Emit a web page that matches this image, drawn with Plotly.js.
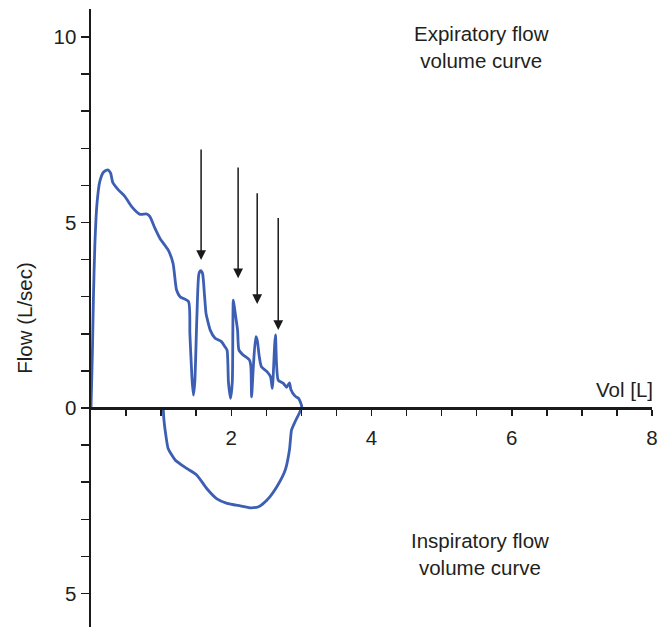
<!DOCTYPE html>
<html>
<head>
<meta charset="utf-8">
<script src="https://cdn.plot.ly/plotly-3.0.1.min.js"></script>
<style>html,body{margin:0;padding:0;background:#fff;}#chart{width:670px;height:627px;}</style>
</head>
<body>
<div id="chart"></div>
<script>
// Expiratory limb (volume L, flow L/s)
var expVol  = [0, 0.02, 0.035, 0.055, 0.085, 0.125, 0.18, 0.24, 0.28, 0.31, 0.39, 0.485, 0.58, 0.70, 0.795, 0.84, 0.913, 0.984, 1.10, 1.17, 1.22, 1.27, 1.39, 1.41, 1.44, 1.46, 1.48, 1.51, 1.54, 1.565, 1.59, 1.62, 1.64, 1.65, 1.70, 1.77, 1.86, 1.91, 1.94, 1.96, 1.99, 2.015, 2.03, 2.05, 2.09, 2.11, 2.17, 2.26, 2.28, 2.29, 2.315, 2.35, 2.37, 2.40, 2.43, 2.51, 2.56, 2.585, 2.595, 2.63, 2.67, 2.74, 2.79, 2.83, 2.85, 2.91, 2.96, 3.005];
var expFlow = [0, 1.5, 3.0, 4.4, 5.5, 6.1, 6.36, 6.42, 6.33, 6.08, 5.88, 5.70, 5.43, 5.22, 5.23, 5.16, 4.84, 4.57, 4.26, 3.90, 3.18, 3.00, 2.87, 2.0, 0.8, 0.35, 0.7, 2.46, 3.63, 3.70, 3.63, 3.00, 2.55, 2.46, 2.10, 1.88, 1.79, 1.65, 1.56, 0.7, 0.26, 0.7, 2.91, 2.64, 2.10, 1.56, 1.43, 1.29, 1.11, 0.30, 1.11, 1.92, 1.83, 1.38, 1.11, 0.98, 0.84, 0.53, 0.75, 1.97, 0.75, 0.67, 0.56, 0.68, 0.50, 0.32, 0.26, 0.04];
// Inspiratory limb (volume L, flow L/s, negative = inspiration)
var inspVol  = [3.005, 2.98, 2.91, 2.86, 2.83, 2.77, 2.65, 2.51, 2.39, 2.27, 2.13, 1.94, 1.79, 1.65, 1.51, 1.365, 1.20, 1.10, 1.07, 1.04, 1.03];
var inspFlow = [0.04, -0.10, -0.37, -0.59, -1.13, -1.67, -2.12, -2.48, -2.66, -2.69, -2.64, -2.57, -2.44, -2.17, -1.81, -1.63, -1.40, -1.09, -0.77, -0.32, 0];
// Arrows marking the interruptions
var arrowX    = [1.57, 2.098, 2.37, 2.67];
var arrowTail = [7.01, 6.52, 5.83, 5.16];
var arrowTip  = [3.99, 3.50, 2.80, 2.10];
// Axis ticks
var xTickVals = [0.5, 1, 1.5, 2, 2.5, 3, 3.5, 4, 4.5, 5, 5.5, 6, 6.5, 7, 7.5, 8];
var xTickText = ['', '', '', '2', '', '', '', '4', '', '', '', '6', '', '', '', '8'];
var yTickVals = [-5, -4, -3, -2, -1, 0, 1, 2, 3, 4, 5, 6, 7, 8, 9, 10];
var yTickText = ['5', '', '', '', '', '0', '', '', '', '', '5', '', '', '', '', '10'];

var loopX = expVol.concat(inspVol.slice(1));
var loopY = expFlow.concat(inspFlow.slice(1));

var FONT = 'Liberation Sans, Arial, sans-serif';
var TXT = '#231f20';
var FS = 20.5;
var yMin = -5.903, yMax = 10.755;

var annotations = [
  {x: 5.563, y: 9.744, xref: 'x', yref: 'y', text: 'Expiratory flow<br>volume curve', showarrow: false, font: {family: FONT, size: FS, color: TXT}, align: 'center'},
  {x: 5.55, y: -3.935, xref: 'x', yref: 'y', text: 'Inspiratory flow<br>volume curve', showarrow: false, font: {family: FONT, size: FS, color: TXT}, align: 'center'},
  {x: 1.006, y: (0.5 - yMin) / (yMax - yMin), xref: 'paper', yref: 'paper', xanchor: 'right', yanchor: 'middle', text: 'Vol [L]', showarrow: false, font: {family: FONT, size: FS, color: TXT}}
];
for (var i = 0; i < arrowX.length; i++) {
  annotations.push({x: arrowX[i], y: arrowTip[i], ax: arrowX[i], ay: arrowTail[i], xref: 'x', yref: 'y', axref: 'x', ayref: 'y', text: '', showarrow: true, arrowhead: 2, arrowsize: 1.3, arrowwidth: 1.5, arrowcolor: '#1a1a1a', standoff: 0});
}

var data = [{
  x: loopX, y: loopY, type: 'scatter', mode: 'lines',
  line: {color: '#3d5fb3', width: 2.8, shape: 'spline', smoothing: 0.6},
  hoverinfo: 'skip'
}];

var layout = {
  width: 670, height: 627,
  margin: {l: 91, r: 18, t: 9, b: 0, pad: 0},
  paper_bgcolor: '#fff', plot_bgcolor: '#fff',
  showlegend: false,
  font: {family: FONT, size: FS, color: TXT},
  xaxis: {
    range: [0, 8], anchor: 'free', position: (0 - yMin) / (yMax - yMin),
    showline: true, linecolor: '#1a1a1a', linewidth: 2.5,
    showgrid: false, zeroline: false,
    tickmode: 'array', tickvals: xTickVals, ticktext: xTickText,
    ticks: 'outside', ticklen: 6, tickwidth: 1.5, tickcolor: '#1a1a1a',
    ticklabelstandoff: 5,
    tickfont: {family: FONT, size: FS, color: TXT}
  },
  yaxis: {
    range: [yMin, yMax],
    showline: true, linecolor: '#1a1a1a', linewidth: 2.5,
    showgrid: false, zeroline: false,
    tickmode: 'array', tickvals: yTickVals, ticktext: yTickText,
    ticks: 'outside', ticklen: 8, tickwidth: 1.5, tickcolor: '#1a1a1a',
    tickfont: {family: FONT, size: FS, color: TXT},
    title: {text: 'Flow (L/sec)', font: {family: FONT, size: FS, color: TXT}, standoff: 16}
  },
  annotations: annotations
};

Plotly.newPlot('chart', data, layout, {displayModeBar: false, staticPlot: true});
</script>
</body>
</html>
